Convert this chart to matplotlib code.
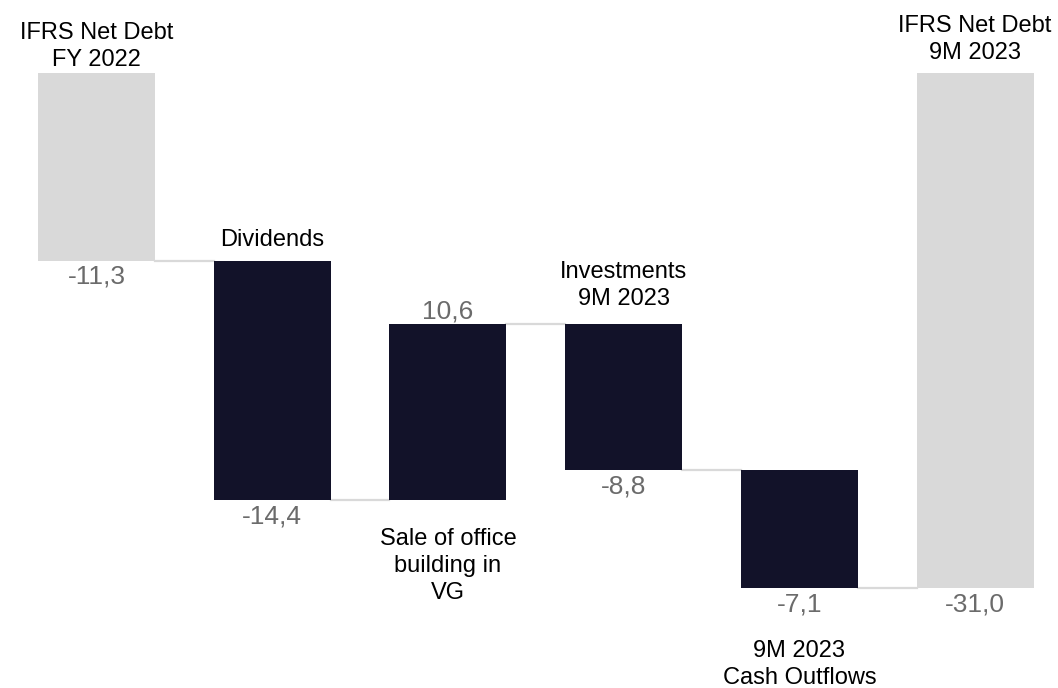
import matplotlib.pyplot as plt
import numpy as np

plt.rcParams['font.family'] = ['Liberation Sans', 'DejaVu Sans']

categories = ['IFRS Net Debt\nFY 2022', 'Dividends', 'Sale of office\nbuilding in\nVG',
              'Investments\n9M 2023', '9M 2023\nCash Outflows', 'IFRS Net Debt\n9M 2023']
values = [-11.3, -14.4, 10.6, -8.8, -7.1, -31.0]
is_total = [True, False, False, False, False, True]
value_labels = ['-11,3', '-14,4', '10,6', '-8,8', '-7,1', '-31,0']

# category text: above the bar, or below it (pixel offset from bar edge)
cat_side = ['above', 'above', 'below', 'above', 'below', 'above']
cat_offset = [2, 10, -28, 14, -52, 9]

dark = '#121229'
grey = '#d9d9d9'
val_color = '#6b6b6b'

# running totals
bottoms = []
tops = []
ends = []
level = 0.0
for v, tot in zip(values, is_total):
    if tot:
        start, end = 0.0, v
    else:
        start, end = level, level + v
    level = end
    ends.append(end)
    bottoms.append(min(start, end))
    tops.append(max(start, end))

fig = plt.figure(figsize=(10.58, 6.88), dpi=100)
ax = fig.add_axes([0, 0, 1, 1])

x = np.arange(len(values))
w = 0.666
colors = [grey if t else dark for t in is_total]
heights = [t - b for t, b in zip(tops, bottoms)]
ax.bar(x, heights, bottom=bottoms, width=w, color=colors, zorder=2)

# connectors between bars
for i in range(len(values) - 1):
    ax.plot([x[i] + w / 2, x[i + 1] - w / 2], [ends[i], ends[i]],
            color='#d9d9d9', lw=1.6, zorder=1)

fs_cat = 17
fs_val = 19
for i, v in enumerate(values):
    top, bot = tops[i], bottoms[i]
    # value label at bar end
    if v < 0:
        ax.annotate(value_labels[i], (x[i], bot), xytext=(0, -4), textcoords='offset pixels',
                    ha='center', va='top', fontsize=fs_val, color=val_color)
    else:
        ax.annotate(value_labels[i], (x[i], top), xytext=(0, 0), textcoords='offset pixels',
                    ha='center', va='bottom', fontsize=fs_val, color=val_color)
    if cat_side[i] == 'above':
        ax.annotate(categories[i], (x[i], top), xytext=(0, cat_offset[i]), textcoords='offset pixels',
                    ha='center', va='bottom', fontsize=fs_cat, color='black', linespacing=1.3)
    else:
        ax.annotate(categories[i], (x[i], bot), xytext=(0, cat_offset[i]), textcoords='offset pixels',
                    ha='center', va='top', fontsize=fs_cat, color='black', linespacing=1.3)

ax.set_xlim(-0.549, 5.472)
ax.set_ylim(-37.0, 4.39)
ax.axis('off')

plt.savefig('out.png', dpi=100)
